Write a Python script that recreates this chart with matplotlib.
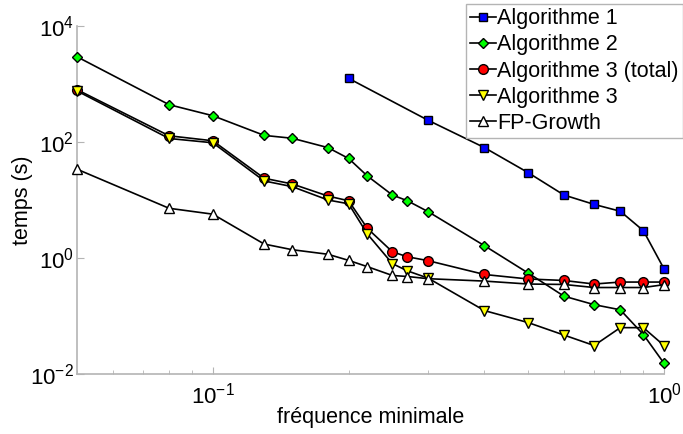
import matplotlib
matplotlib.use("Agg")
import matplotlib.pyplot as plt
from matplotlib.ticker import NullLocator, LogLocator

plt.rcParams['font.family'] = ['Liberation Sans', 'DejaVu Sans']
plt.rcParams['font.size'] = 14

# minimum frequency values (x axis)
freq = [0.05, 0.08, 0.1, 0.13, 0.15, 0.18, 0.2, 0.22, 0.25, 0.27, 0.3,
        0.4, 0.5, 0.6, 0.7, 0.8, 0.9, 1.0]
freq_algo1 = [0.2, 0.3, 0.4, 0.5, 0.6, 0.7, 0.8, 0.9, 1.0]

# times in seconds
algo1 = [1250, 237, 80, 29.6, 12.2, 8.4, 6.4, 2.96, 0.65]
algo2 = [2950, 440, 284, 130, 116, 80, 52, 26, 12.2, 9.7, 6.3,
         1.63, 0.55, 0.22, 0.157, 0.128, 0.048, 0.0153]
algo3_total = [800, 128, 105, 23.7, 18.9, 11.7, 9.7, 3.25, 1.28, 1.05, 0.9,
               0.52, 0.435, 0.41, 0.356, 0.385, 0.385, 0.385]
algo3 = [760, 115, 97, 21.3, 17, 10, 8.6, 2.6, 0.8, 0.6, 0.45,
         0.124, 0.077, 0.047, 0.031, 0.063, 0.063, 0.031]
fpgrowth = [34, 7.2, 5.7, 1.74, 1.39, 1.16, 0.91, 0.71, 0.5, 0.48, 0.44,
            0.40, 0.356, 0.35, 0.31, 0.31, 0.31, 0.347]

fig = plt.figure(figsize=(6.83, 4.34), dpi=100)
ax = fig.add_axes([0.1127, 0.1382, 0.8595, 0.8019])

lw = 1.2
style = dict(color='black', lw=lw, mec='black', mew=1, clip_on=False)
ax.plot(freq_algo1, algo1, '-s', mfc='#0000ff', ms=6, label='Algorithme 1', **style)
ax.plot(freq, algo2, '-D', mfc='#00ff00', ms=5, label='Algorithme 2', **style)
ax.plot(freq, algo3_total, '-o', mfc='#ff0000', ms=7, label='Algorithme 3 (total)', **style)
ax.plot(freq, algo3, '-v', mfc='#ffff00', ms=7, label='Algorithme 3', **style)
ax.plot(freq, fpgrowth, '-^', mfc='white', ms=7, label='FP-Growth', **style)

ax.set_xscale('log')
ax.set_yscale('log')
ax.set_xlim(0.05, 1)
ax.set_ylim(1e-2, 1e4)
ax.set_yticks([1e-2, 1e0, 1e2, 1e4])
ax.yaxis.set_minor_locator(NullLocator())
ax.xaxis.set_minor_locator(LogLocator(base=10, subs=range(2, 10)))

for side in ['top', 'right']:
    ax.spines[side].set_visible(False)
for side in ['left', 'bottom']:
    ax.spines[side].set_color('#b4b4b4')
    ax.spines[side].set_linewidth(1.2)
    ax.spines[side].set_zorder(0)
ax.tick_params(which='both', direction='in', color='#b4b4b4', labelsize=16)
ax.tick_params(axis='y', pad=2)
ax.tick_params(axis='x', pad=6)
ax.tick_params(which='major', length=5)
ax.tick_params(which='minor', length=3)

ax.set_xlabel('fréquence minimale', fontsize=15.5)
ax.set_ylabel('temps (s)', fontsize=15.5)
ax.xaxis.set_label_coords(0.5, -0.095)
ax.yaxis.set_label_coords(-0.075, 0.5)

leg = ax.legend(loc='upper right', bbox_to_anchor=(1.0, 0.991),
                bbox_transform=fig.transFigure, fontsize=15.5, handlelength=1.2,
                handletextpad=0.05, labelspacing=0.24, borderpad=0.2,
                fancybox=False, framealpha=1, borderaxespad=0)
leg.get_frame().set_edgecolor('#b4b4b4')
leg.get_frame().set_linewidth(1)

fig.savefig('out.png', dpi=100)
